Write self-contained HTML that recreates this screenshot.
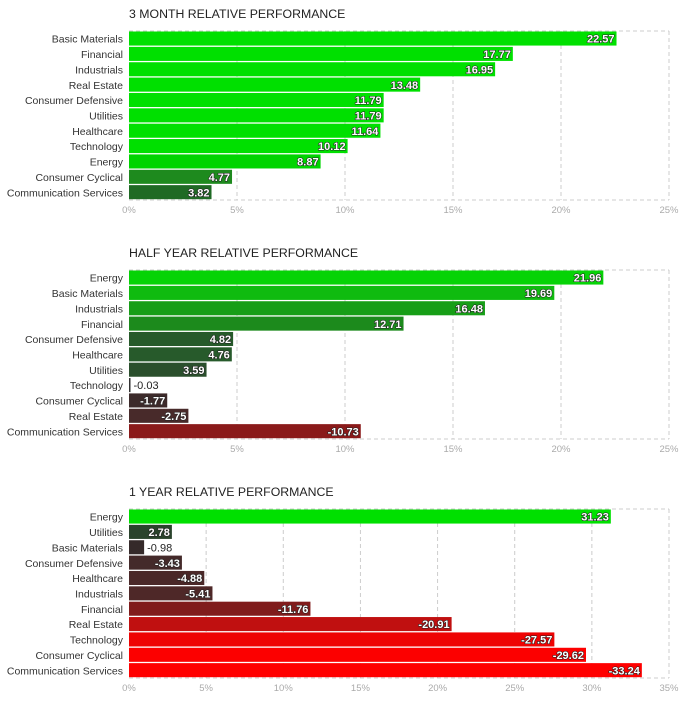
<!DOCTYPE html>
<html><head><meta charset="utf-8"><style>
html,body{margin:0;padding:0;background:#fff;}
svg{display:block;font-family:"Liberation Sans",sans-serif;}
</style></head><body>
<svg id="chart" width="685" height="703" viewBox="0 0 685 703"></svg>
<script>
const titles1 = "3 MONTH RELATIVE PERFORMANCE";
const cats1 = ["Basic Materials","Financial","Industrials","Real Estate","Consumer Defensive","Utilities","Healthcare","Technology","Energy","Consumer Cyclical","Communication Services"];
const vals1 = [22.57,17.77,16.95,13.48,11.79,11.79,11.64,10.12,8.87,4.77,3.82];
const colors1 = ["#00e000","#00e000","#00e000","#00e000","#00e000","#00e000","#00e000","#00e000","#00d400","#1e8a1e","#1f6a24"];
const ticks1 = [0,5,10,15,20,25];

const titles2 = "HALF YEAR RELATIVE PERFORMANCE";
const cats2 = ["Energy","Basic Materials","Industrials","Financial","Consumer Defensive","Healthcare","Utilities","Technology","Consumer Cyclical","Real Estate","Communication Services"];
const vals2 = [21.96,19.69,16.48,12.71,4.82,4.76,3.59,-0.03,-1.77,-2.75,-10.73];
const colors2 = ["#06d306","#0fbb0f","#179e17","#1c8a1c","#265a2a","#275a2b","#2a4f2c","#333333","#3c2a2a","#482a2a","#8a1a1a"];
const ticks2 = [0,5,10,15,20,25];

const titles3 = "1 YEAR RELATIVE PERFORMANCE";
const cats3 = ["Energy","Utilities","Basic Materials","Consumer Defensive","Healthcare","Industrials","Financial","Real Estate","Technology","Consumer Cyclical","Communication Services"];
const vals3 = [31.23,2.78,-0.98,-3.43,-4.88,-5.41,-11.76,-20.91,-27.57,-29.62,-33.24];
const colors3 = ["#00e000","#2a432c","#352a2a","#442a2a","#4a2828","#4e2828","#801c1c","#c01010","#ee0303","#fc0000","#ff0000"];
const ticks3 = [0,5,10,15,20,25,30,35];

const NS="http://www.w3.org/2000/svg";
const svg=document.getElementById('chart');
function mk(tag,attrs,parent){const e=document.createElementNS(NS,tag);for(const k in attrs)e.setAttribute(k,attrs[k]);(parent||svg).appendChild(e);return e;}

function panel(title,cats,vals,colors,ticks,top,key){
  const g=mk('g',{});
  
  
  const x0=129,x1=669,plotTop=top+31,plotBot=top+200;
  const maxT=ticks[ticks.length-1];
  const xs=v=>x0+(Math.abs(v)/maxT)*(x1-x0);
  const step=(plotBot-plotTop)/cats.length;
  const t=mk('text',{x:129,y:top+18,'font-size':12.3,fill:'#222'},g);
  t.textContent=title;
  
  
  ticks.forEach((tv,i)=>{
    const x=xs(tv);
    if(i>0){const l=mk('line',{x1:x,y1:plotTop,x2:x,y2:plotBot,stroke:'#ccc','stroke-dasharray':'4,3'},g);
      
      }
    const tl=mk('text',{x:x,y:plotBot+13,'font-size':9.5,fill:'#aaa','text-anchor':'middle'},g);
    tl.textContent=tv+'%';
    
    
  });
  const tb=mk('line',{x1:x0,y1:plotTop,x2:x1,y2:plotTop,stroke:'#ccc','stroke-dasharray':'4,3'},g);
  
  
  const bb=mk('line',{x1:x0,y1:plotBot,x2:x1,y2:plotBot,stroke:'#ccc','stroke-dasharray':'4,3'},g);
  
  
  cats.forEach((c,i)=>{
    const y=plotTop+i*step;
    const cl=mk('text',{x:123,y:y+step/2+4,'font-size':10.5,fill:'#333','text-anchor':'end'},g);
    cl.textContent=c;
    
    
    const v=vals[i];
    const w=Math.max(xs(v)-x0,1.5);
    const r=mk('rect',{x:x0,y:y+0.5,width:w,height:step-1.3,fill:colors[i]},g);
    
    
    const txt=v.toFixed(2);
    const tw=txt.length*6.1;
    let vl;
    if(w>tw+4){
      vl=mk('text',{x:x0+w-2,y:y+step/2+4,'font-size':11,'font-weight':'bold',fill:'#fff','text-anchor':'end',stroke:'#222','stroke-width':1.1,'paint-order':'stroke'},g);
    }else{
      vl=mk('text',{x:x0+w+3,y:y+step/2+4,'font-size':11,fill:'#222','text-anchor':'start'},g);
    }
    vl.textContent=txt;
    
    
  });
}
panel(titles1,cats1,vals1,colors1,ticks1,0,'three-month');
panel(titles2,cats2,vals2,colors2,ticks2,239,'half-year');
panel(titles3,cats3,vals3,colors3,ticks3,478,'one-year');
</script>
</body></html>
